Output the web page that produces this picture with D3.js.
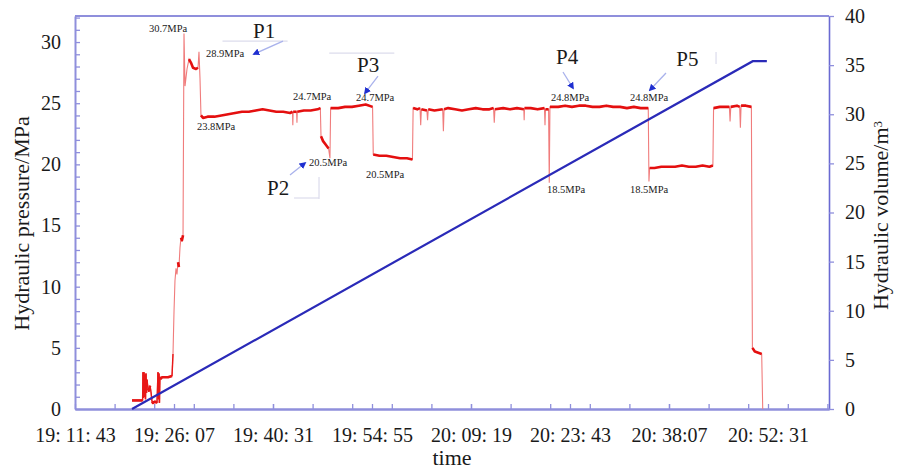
<!DOCTYPE html>
<html>
<head>
<meta charset="utf-8">
<script src="https://cdn.jsdelivr.net/npm/d3@7"></script>
<style>
  body { margin: 0; background: #fff; }
  text { font-family: "Liberation Serif", "Times New Roman", serif; fill: #1a1a1a; }
</style>
</head>
<body>
<div id="chart"></div>
<script>
// time axis labels (as printed on the original figure)
var tickLabels = ["19: 11: 43", "19: 26: 07", "19: 40: 31", "19: 54: 55",
                  "20: 09: 19", "20: 23: 43", "20: 38:07", "20: 52: 31"];

// hydraulic pressure trace, time in minutes after 19:00
var pressureMin = [
  20.01, 21.55, 21.61, 21.68, 21.75, 21.83, 21.90, 21.97, 22.04, 22.12, 22.19, 22.33,
  22.48, 22.63, 22.77, 22.92, 23.06, 23.35, 23.64, 23.79, 23.86, 23.93, 24.00, 24.08,
  24.23, 24.37, 25.24, 25.83, 25.97, 26.12, 26.26, 26.41, 26.55, 26.70, 26.84, 26.99,
  27.13, 27.28, 27.43, 27.57, 27.72, 28.01, 28.30, 28.59, 28.88, 29.32, 29.61, 29.75,
  29.90, 30.04, 30.34,
  31, 32, 33, 34, 35, 36, 37, 38, 39, 40, 41, 42, 43, 43.35, 43.4, 43.45, 43.95, 44.0,
  44.05, 45, 46, 47, 47.4, 47.5, 47.8, 48.2, 48.6, 48.8, 48.9,
  50, 51, 52, 53, 54, 55, 55.1, 56, 57, 58, 59, 60, 60.8, 60.9,
  61.5, 61.9, 62.0, 62.1, 62.9, 63.0, 63.1, 64, 65.2, 65.3, 65.4, 66, 67, 68, 69, 70, 71,
  72, 72.6, 72.7, 72.8, 74, 75, 76, 77, 77.05, 77.1, 78, 79, 80, 80.08, 80.15, 80.6,
  80.7, 80.8,
  82, 83, 84, 85, 86, 87, 88, 89, 90, 91, 92, 93, 94, 95.1, 95.2, 95.3,
  96, 97, 98, 99, 100, 101, 102, 103, 104, 104.5, 104.6,
  105.5, 106.9, 107.0, 107.1, 108, 108.4, 108.5, 108.6, 109.3, 110.1,
  110.25, 110.6, 111.1, 111.6, 111.75
];
var pressureMPa = [
  0.7, 0.7, 3.0, 0.9, 3.0, 1.0, 2.8, 0.8, 2.9, 1.3, 2.4, 1.7,
  1.5, 1.9, 1.4, 0.6, 0.5, 0.6, 0.5, 3.0, 0.8, 2.9, 0.5, 2.6,
  2.5, 2.6, 2.6, 2.7, 4.5, 8.0, 10.5, 11.5, 11.0, 12.0, 11.6, 13.2,
  14.0, 13.8, 14.2, 30.7, 26.4, 27.8, 28.6, 28.3, 27.9, 27.8, 27.9, 29.2,
  27.0, 24.0, 23.8,
  23.9, 23.9, 24.0, 24.1, 24.2, 24.3, 24.3, 24.4, 24.5, 24.4, 24.3, 24.3, 24.2, 24.3, 23.2, 24.3, 24.3, 23.4,
  24.3, 24.4, 24.4, 24.5, 24.6, 22.3, 21.9, 21.6, 21.3, 20.5, 24.6,
  24.6, 24.7, 24.7, 24.8, 24.9, 24.7, 20.8, 20.7, 20.7, 20.6, 20.5, 20.5, 20.4, 24.6,
  24.5, 24.6, 23.2, 24.5, 24.4, 23.6, 24.5, 24.4, 24.5, 22.7, 24.5, 24.6, 24.5, 24.4, 24.5, 24.6, 24.5,
  24.5, 24.6, 23.4, 24.5, 24.6, 24.5, 24.6, 24.5, 23.6, 24.6, 24.6, 24.5, 24.6, 23.2, 24.5, 24.5,
  18.5, 24.7,
  24.7, 24.8, 24.7, 24.8, 24.8, 24.7, 24.7, 24.8, 24.7, 24.7, 24.6, 24.7, 24.6, 24.6, 18.6, 19.7,
  19.7, 19.8, 19.8, 19.8, 19.9, 19.8, 19.8, 19.9, 19.8, 19.9, 24.6,
  24.7, 24.7, 23.5, 24.7, 24.8, 24.7, 23.0, 24.8, 24.8, 24.7,
  5.0, 4.7, 4.6, 4.5, 0
];

// cumulative hydraulic volume
var volumeMin = [20.01, 110.3, 112.35];
var volumeM3 = [0, 35.4, 35.4];

// value labels, placed in data coordinates [minute, MPa]
var notes = [
  { text: "30.7MPa", at: [22.48, 30.8] },
  { text: "28.9MPa", at: [30.77, 28.78] },
  { text: "23.8MPa", at: [29.46, 22.85] },
  { text: "24.7MPa", at: [43.43, 25.26] },
  { text: "24.7MPa", at: [52.59, 25.18] },
  { text: "20.5MPa", at: [45.75, 19.86] },
  { text: "20.5MPa", at: [54.04, 18.88] },
  { text: "24.8MPa", at: [80.95, 25.18] },
  { text: "24.8MPa", at: [92.44, 25.18] },
  { text: "18.5MPa", at: [80.37, 17.62] },
  { text: "18.5MPa", at: [92.44, 17.62] }
];
// point names with their pointer arrows
var points = [
  { text: "P1", at: [37.61, 30.33], from: [41.97, 30.08], to: [37.75, 29.02] },
  { text: "P2", at: [39.64, 17.49], from: [42.99, 19.13], to: [45.17, 20.11] },
  { text: "P3", at: [52.73, 27.55], from: [55.79, 27.22], to: [53.90, 25.83] },
  { text: "P4", at: [81.68, 28.20], from: [82.70, 27.55], to: [84.15, 26.24] },
  { text: "P5", at: [99.17, 28.04], from: [97.68, 27.47], to: [95.35, 26.08] }
];

var svgWidth = 901;
var svgHeight = 471;
var margin = { top: 16, right: 72, bottom: 62, left: 75 };
var width = svgWidth - margin.left - margin.right;
var height = svgHeight - margin.top - margin.bottom;

function toMin(s) {
  var p = s.replace(/\s/g, "").split(":").map(Number);
  return (p[0] - 19) * 60 + p[1] + p[2] / 60;
}
var tickMin = tickLabels.map(toMin);

var svg = d3.select("#chart").append("svg")
  .attr("width", svgWidth)
  .attr("height", svgHeight);

var g = svg.append("g")
  .attr("transform", `translate(${margin.left}, ${margin.top})`);

var x = d3.scaleLinear().domain([tickMin[0], 121.39]).range([0, width]);
var yL = d3.scaleLinear().domain([0, 32.13]).range([height, 0]);
var yR = d3.scaleLinear().domain([0, 40]).range([height, 0]);

var axisColor = "#8f8fdc";

// top frame line
g.append("line")
  .attr("x1", 0).attr("x2", width).attr("y1", 0).attr("y2", 0)
  .attr("stroke", axisColor).attr("stroke-width", 2);

// left axis: small ticks every 1 MPa, labels every 5
var leftAxis = d3.axisLeft(yL)
  .tickValues(d3.range(0, 33, 1))
  .tickFormat(d => d % 5 === 0 ? d : "")
  .tickSizeInner(-5).tickSizeOuter(0).tickPadding(14);
var gl = g.append("g").call(leftAxis);

// right axis
var rightAxis = d3.axisRight(yR)
  .tickValues(d3.range(0, 41, 5))
  .tickSizeInner(5).tickSizeOuter(0).tickPadding(11);
var gr = g.append("g").attr("transform", `translate(${width},0)`).call(rightAxis);

// bottom axis: small ticks plus labelled ticks
var minorTicks = d3.range(1, 20).map(k => tickMin[0] + k * 5.76);
var bottomMinor = d3.axisBottom(x).tickValues(minorTicks).tickFormat("")
  .tickSizeInner(-5).tickSizeOuter(0);
g.append("g").attr("transform", `translate(0,${height})`).call(bottomMinor);
var bottomAxis = d3.axisBottom(x).tickValues(tickMin)
  .tickFormat((d, i) => tickLabels[i])
  .tickSizeInner(-5).tickSizeOuter(0).tickPadding(0);
var gb = g.append("g").attr("transform", `translate(0,${height})`).call(bottomAxis);
gb.selectAll("text").attr("y", 33).attr("dy", 0);

g.selectAll(".domain").attr("stroke", axisColor).attr("stroke-width", 2);
gr.select(".domain").attr("stroke", "#6a6ad2").attr("stroke-width", 1.6);
g.selectAll(".tick line").attr("stroke", axisColor).attr("stroke-width", 1.3);
g.selectAll(".tick text")
  .style("font-family", "'Liberation Serif', serif")
  .style("font-size", "20px")
  .attr("fill", "#1a1a1a");

// faint leftovers of text boxes in the original figure
var boxLines = [
  [[33.17, 30.08], [42.64, 30.08]],
  [[48.70, 29.10], [58.16, 29.10]],
  [[47.21, 18.97], [47.21, 17.17]],
  [[43.58, 17.25], [47.21, 17.25]],
  [[104.96, 29.19], [104.96, 28.20]]
];
g.selectAll(".boxline").data(boxLines).join("line")
  .attr("x1", d => x(d[0][0])).attr("y1", d => yL(d[0][1]))
  .attr("x2", d => x(d[1][0])).attr("y2", d => yL(d[1][1]))
  .attr("stroke", "#dcdcec").attr("stroke-width", 1.2);

// pressure trace
var pts = pressureMin.map((m, i) => [m, pressureMPa[i]]);
var line = d3.line().x(d => x(d[0])).y(d => yL(d[1]));

g.append("path").datum(pts)
  .attr("d", line)
  .attr("fill", "none")
  .attr("stroke", "#f07c7c")
  .attr("stroke-width", 1.1);

// steady stretches drawn heavier, like the dense noisy band in the figure
var runs = [];
var cur = null;
d3.pairs(pts).forEach(function(pr) {
  var a = pr[0], b = pr[1];
  var steady = Math.abs(a[1] - b[1]) <= 0.45;
  if (steady) {
    if (!cur) { cur = [a]; runs.push(cur); }
    cur.push(b);
  } else {
    cur = null;
  }
});
g.selectAll(".steady").data(runs).join("path")
  .attr("d", line)
  .attr("fill", "none")
  .attr("stroke", "#e40f0f")
  .attr("stroke-width", 2.6)
  .attr("stroke-linejoin", "round");

// low pressure start region drawn in full red
var lowSegs = d3.pairs(pts).filter(pr => pr[0][1] < 5 && pr[1][1] < 5 && pr[0][0] < 30);
g.selectAll(".low").data(lowSegs).join("path")
  .attr("d", line)
  .attr("fill", "none")
  .attr("stroke", "#e81818")
  .attr("stroke-width", 1.4);

// volume line
var vpts = volumeMin.map((m, i) => [m, volumeM3[i]]);
g.append("path").datum(vpts)
  .attr("d", d3.line().x(d => x(d[0])).y(d => yR(d[1])))
  .attr("fill", "none")
  .attr("stroke", "#2a2ab8")
  .attr("stroke-width", 2.2);

// arrow marker
svg.append("defs").append("marker")
  .attr("id", "head")
  .attr("viewBox", "0 0 8 8")
  .attr("refX", 6).attr("refY", 4)
  .attr("markerWidth", 7).attr("markerHeight", 7)
  .attr("markerUnits", "userSpaceOnUse")
  .attr("orient", "auto")
  .append("path").attr("d", "M0,0 L8,4 L0,8 z").attr("fill", "#1f2fd0");

g.selectAll(".arrow").data(points).join("line")
  .attr("x1", d => x(d.from[0])).attr("y1", d => yL(d.from[1]))
  .attr("x2", d => x(d.to[0])).attr("y2", d => yL(d.to[1]))
  .attr("stroke", "#a9b2ec").attr("stroke-width", 1.3)
  .attr("marker-end", "url(#head)");

g.selectAll(".pname").data(points).join("text")
  .attr("x", d => x(d.at[0])).attr("y", d => yL(d.at[1]))
  .style("font-size", "21px")
  .text(d => d.text);

g.selectAll(".note").data(notes).join("text")
  .attr("x", d => x(d.at[0])).attr("y", d => yL(d.at[1]))
  .style("font-size", "10.5px")
  .text(d => d.text);

// axis titles
svg.append("text")
  .attr("transform", `translate(29, ${margin.top + height / 2 + 11}) rotate(-90)`)
  .attr("text-anchor", "middle")
  .style("font-size", "22px")
  .text("Hydraulic pressure/MPa");

var rt = svg.append("text")
  .attr("transform", `translate(888, ${margin.top + height / 2 + 3}) rotate(-90)`)
  .attr("text-anchor", "middle")
  .style("font-size", "22px")
  .text("Hydraulic volume/m");
rt.append("tspan").attr("dy", "-0.45em").style("font-size", "13px").text("3");

svg.append("text")
  .attr("x", margin.left + width / 2)
  .attr("y", 465)
  .attr("text-anchor", "middle")
  .style("font-size", "22px")
  .text("time");
</script>
</body>
</html>
